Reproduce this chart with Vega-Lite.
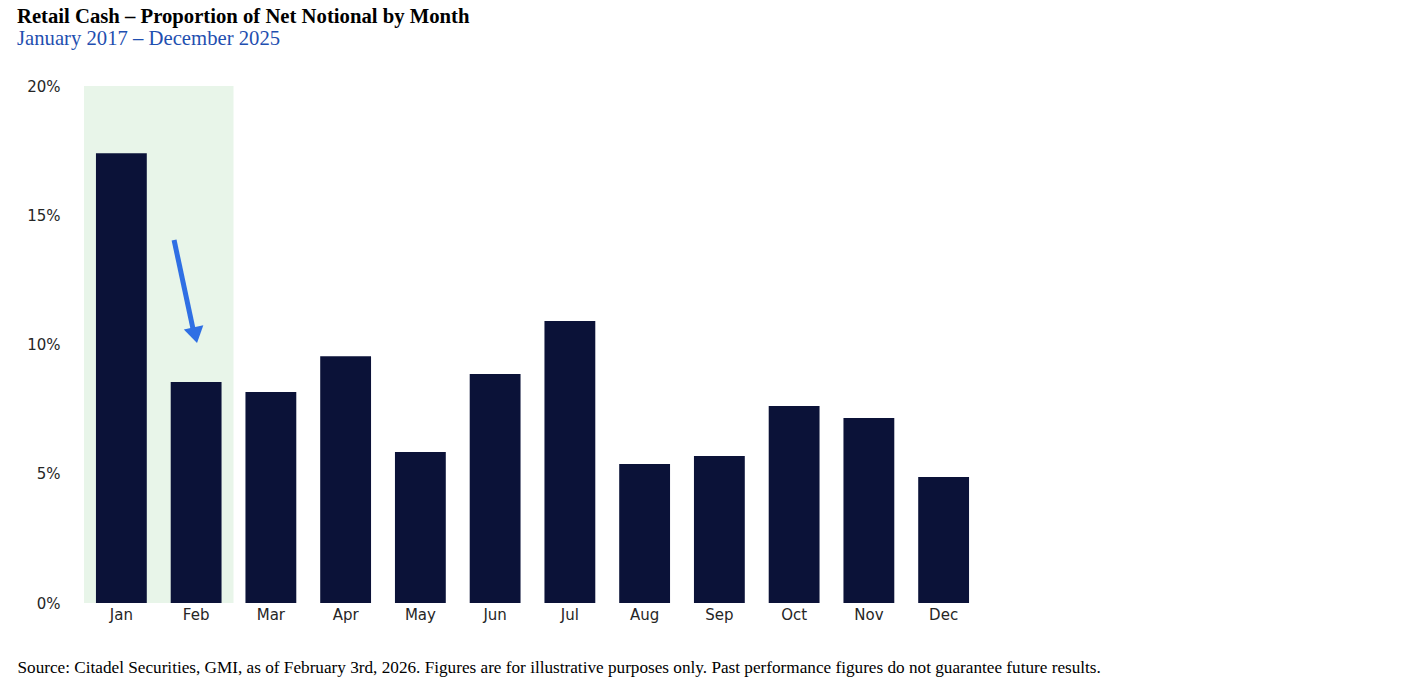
{
  "$schema": "https://vega.github.io/schema/vega-lite/v6.json",
  "autosize": "none",
  "width": 897,
  "height": 517,
  "padding": {"left": 84, "top": 86, "right": 420, "bottom": 84},
  "background": "white",
  "title": {
    "text": "Retail Cash – Proportion of Net Notional by Month",
    "subtitle": "January 2017 – December 2025",
    "anchor": "start",
    "frame": "group",
    "dx": -67,
    "offset": 29,
    "font": "Liberation Serif",
    "fontSize": 20.7,
    "fontWeight": "bold",
    "color": "#000000",
    "subtitleFont": "Liberation Serif",
    "subtitleFontSize": 20.7,
    "subtitleColor": "#1f4fb0",
    "subtitlePadding": 2
  },
  "config": {"view": {"stroke": null}},
  "datasets": {
    "months": [
      {"month": "Jan", "pct": 17.4},
      {"month": "Feb", "pct": 8.55},
      {"month": "Mar", "pct": 8.16},
      {"month": "Apr", "pct": 9.55},
      {"month": "May", "pct": 5.84},
      {"month": "Jun", "pct": 8.86},
      {"month": "Jul", "pct": 10.91},
      {"month": "Aug", "pct": 5.38},
      {"month": "Sep", "pct": 5.69},
      {"month": "Oct", "pct": 7.62},
      {"month": "Nov", "pct": 7.16},
      {"month": "Dec", "pct": 4.87}
    ],
    "highlight": [{"start": 0, "end": 2, "lo": 0, "hi": 20}],
    "arrow": [{"x1": 1.205, "y1": 14.04, "x2": 1.466, "y2": 10.5, "hx": 1.489, "hy": 10.36}]
  },
  "layer": [
    {
      "data": {"name": "highlight"},
      "mark": {"type": "rect", "color": "#e8f5e9"},
      "encoding": {
        "x": {"field": "start", "type": "quantitative", "scale": {"domain": [0, 12], "nice": false}, "axis": null},
        "x2": {"field": "end"},
        "y": {"field": "lo", "type": "quantitative"},
        "y2": {"field": "hi"}
      }
    },
    {
      "data": {"name": "months"},
      "mark": {"type": "bar", "color": "#0b1238"},
      "encoding": {
        "x": {
          "field": "month",
          "type": "nominal",
          "sort": null,
          "scale": {"paddingInner": 0.32, "paddingOuter": 0.16},
          "axis": {
            "title": "Source: Citadel Securities, GMI, as of February 3rd, 2026. Figures are for illustrative purposes only. Past performance figures do not guarantee future results.",
            "titleFont": "Liberation Serif",
            "titleFontSize": 17.2,
            "titleFontWeight": "normal",
            "titleColor": "#000000",
            "titleAnchor": "start",
            "titleAlign": "left",
            "titleBaseline": "alphabetic",
            "titleX": -67,
            "titleY": 69,
            "labelAngle": 0,
            "labelFont": "DejaVu Sans",
            "labelFontSize": 15,
            "labelColor": "#262626",
            "labelPadding": 4,
            "ticks": false,
            "domain": false
          }
        },
        "y": {
          "field": "pct",
          "type": "quantitative",
          "scale": {"domain": [0, 20], "nice": false},
          "axis": {
            "title": null,
            "values": [0, 5, 10, 15, 20],
            "labelExpr": "datum.value + '%'",
            "labelFont": "DejaVu Sans",
            "labelFontSize": 15,
            "labelColor": "#262626",
            "labelPadding": 24,
            "ticks": false,
            "domain": false,
            "grid": false
          }
        }
      }
    },
    {
      "data": {"name": "arrow"},
      "mark": {"type": "rule", "color": "#2f6fe4", "strokeWidth": 5},
      "encoding": {
        "x": {"field": "x1", "type": "quantitative", "scale": {"domain": [0, 12], "nice": false}, "axis": null},
        "x2": {"field": "x2"},
        "y": {"field": "y1", "type": "quantitative"},
        "y2": {"field": "y2"}
      }
    },
    {
      "data": {"name": "arrow"},
      "mark": {"type": "point", "shape": "M-1,-0.8L1,-0.8L0,0.8Z", "filled": true, "color": "#2f6fe4", "opacity": 1, "size": 400, "angle": -12.5},
      "encoding": {
        "x": {"field": "hx", "type": "quantitative", "scale": {"domain": [0, 12], "nice": false}, "axis": null},
        "y": {"field": "hy", "type": "quantitative"}
      }
    }
  ],
  "resolve": {"scale": {"x": "independent"}}
}
